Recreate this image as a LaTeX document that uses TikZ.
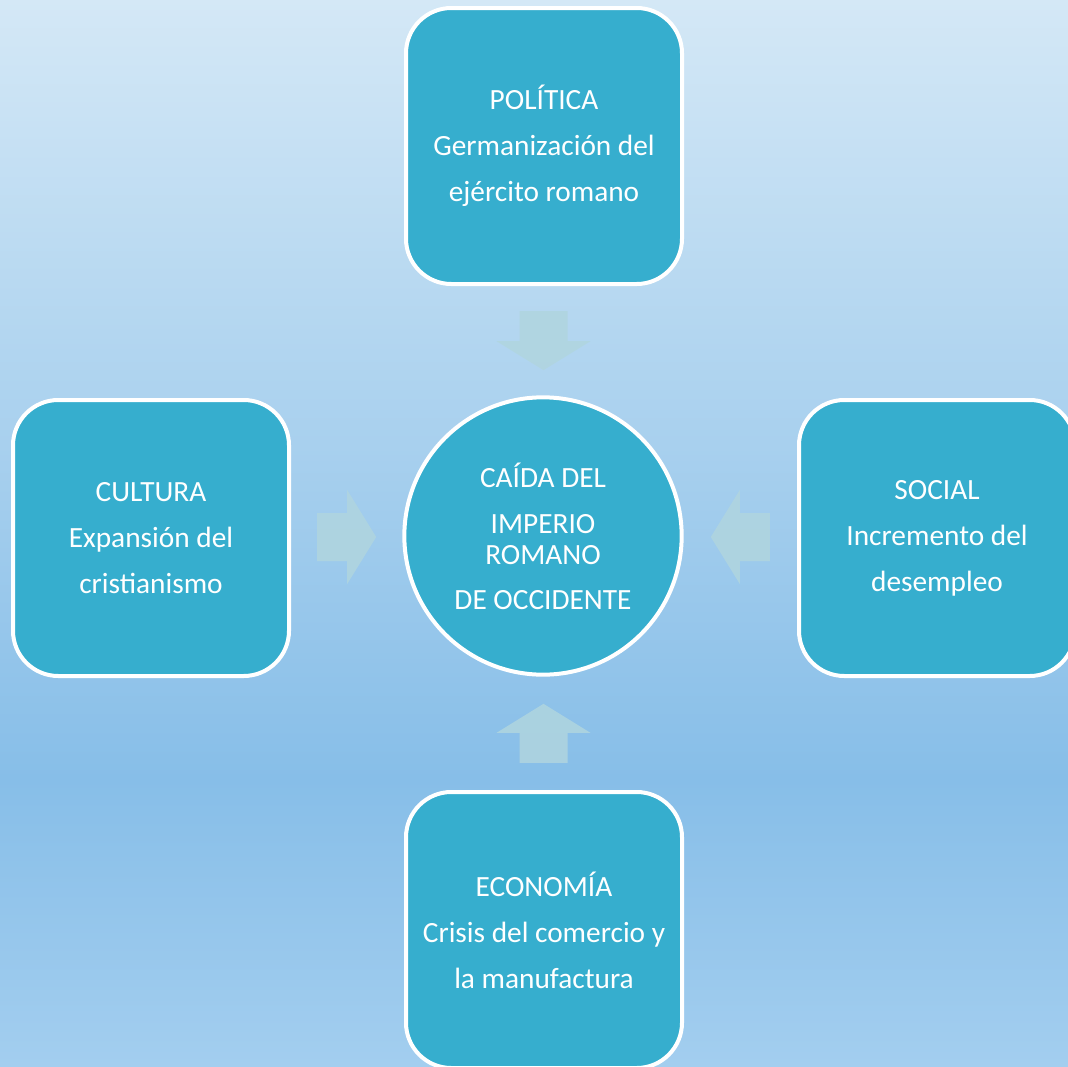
\documentclass[tikz,border=0pt]{standalone}
\usepackage{fontspec}
\setmainfont{Carlito}
\usetikzlibrary{positioning,calc}
\definecolor{fondoA}{HTML}{D4E8F6}
\definecolor{fondoB}{HTML}{87BEE8}
\definecolor{fondoC}{HTML}{A3CEEF}
\definecolor{azulcaja}{HTML}{36AECE}
\definecolor{flechacol}{HTML}{B0D5DF}
\pgfdeclareverticalshading{fondo}{100bp}{color(0bp)=(fondoC); color(25bp)=(fondoC); color(38.5bp)=(fondoB); color(75bp)=(fondoA); color(100bp)=(fondoA)}
\tikzset{
  caja/.style={draw=white, line width=3pt, fill=azulcaja, text=white, rounded corners=34pt,
    minimum width=207pt, minimum height=207pt, align=center,
    font=\fontsize{22}{34.5}\selectfont},
  centro/.style={caja, circle, rounded corners=0pt, minimum size=208pt},
  flecha/.pic={\fill[flechacol, fill opacity=0.85] (-24,-29.5) -- (24,-29.5) -- (24,0.5) -- (47,0.5)
    -- (0,29.5) -- (-47,0.5) -- (-24,0.5) -- cycle;}
}

\begin{document}
\begin{tikzpicture}[x=0.75pt,y=-0.75pt]
    \clip (0,0) rectangle (1068,1067);
    \shade[shading=fondo] (0,0) rectangle (1068,1067);

    \node [centro] (caida) at (543,536) {CAÍDA DEL\\IMPERIO\\[-11pt]ROMANO\\[-1pt]DE OCCIDENTE};
    \node [caja] (politica) at (544,146) {POLÍTICA\\Germanización del\\ejército romano};
    \node [caja] (cultura) at (151,538) {CULTURA\\Expansión del\\cristianismo};
    \node [caja] (social) at (937,538) {SOCIAL\\Incremento del\\desempleo};
    \node [caja] (economia) at (544,930) {ECONOMÍA\\Crisis del comercio y\\la manufactura};

    % flechas hacia el centro
    \pic at ($(politica.south)!0.5!(caida.north)$) {flecha};
    \pic[rotate=90] at ($(cultura.east)!0.5!(caida.west)$) {flecha};
    \pic[rotate=-90] at ($(social.west)!0.5!(caida.east)$) {flecha};
    \pic[rotate=180] at ($(economia.north)!0.5!(caida.south)$) {flecha};
\end{tikzpicture}
\end{document}
